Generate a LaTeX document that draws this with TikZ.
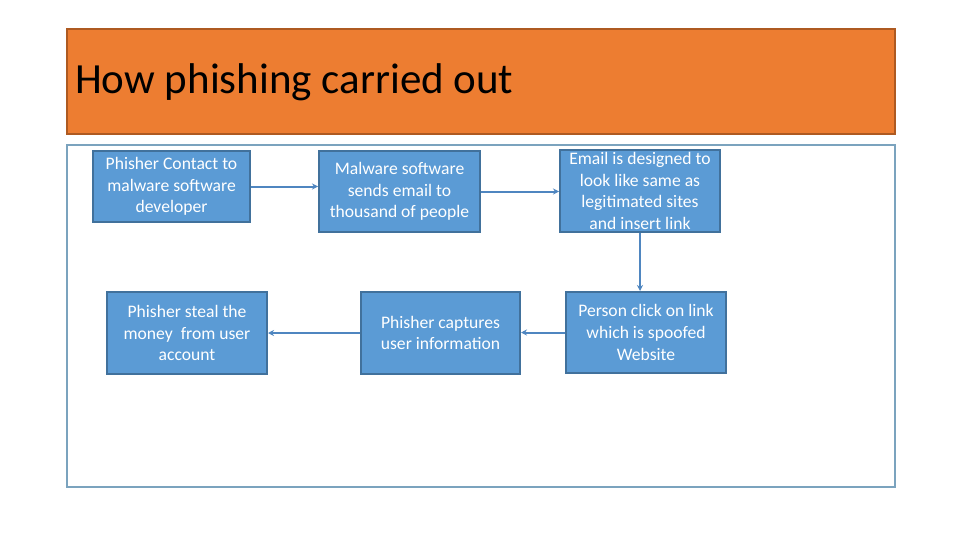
\documentclass[tikz,border=0pt]{standalone}
\usepackage{fontspec}
\setmainfont{Carlito}
\usetikzlibrary{arrows.meta}
\definecolor{hdrfill}{HTML}{ED7D31}
\definecolor{hdrline}{HTML}{AE5A21}
\definecolor{framec}{HTML}{7BA3BE}
\definecolor{boxfill}{HTML}{5B9BD5}
\definecolor{boxline}{HTML}{41719C}
\definecolor{arrc}{HTML}{4F86C0}
\tikzset{
  stepbox/.style={draw=boxline, line width=2pt, fill=boxfill, text=white,
    align=center, inner sep=0pt, font=\fontsize{17.6}{21.7}\selectfont},
  flow/.style={draw=arrc, line width=2pt, -{Stealth[length=6pt,width=6pt]}}
}
\begin{document}
\begin{tikzpicture}[x=1pt,y=-1pt]
\useasboundingbox (0,0) rectangle (960,540);
\fill[white] (0,0) rectangle (960,540);
% header
\node[draw=hdrline, line width=2pt, fill=hdrfill, minimum width=828pt, minimum height=105pt, inner sep=0pt, anchor=north west] (hdr) at (66,28) {};
\node[anchor=base west, inner sep=0pt, font=\fontsize{43}{50}\selectfont] (title) at (75,94) {How phishing carried out};
% frame
\node[draw=framec, line width=2pt, minimum width=828pt, minimum height=342pt, inner sep=0pt, anchor=north west] (frame) at (66,144) {};
% boxes
\node[stepbox, minimum width=157pt, minimum height=71pt] (b1) at (171.5,186.5) {Phisher Contact to\\malware software\\developer};
\node[stepbox, minimum width=161pt, minimum height=81pt] (b2) at (399.5,191.5) {Malware software\\sends email to\\thousand of people};
\node[stepbox, minimum width=160pt, minimum height=82pt] (b3) at (640,191) {Email is designed to\\look like same as\\legitimated sites\\and insert link};
\node[stepbox, minimum width=160pt, minimum height=81pt] (b6) at (646,332.5) {Person click on link\\which is spoofed\\Website};
\node[stepbox, minimum width=159pt, minimum height=82pt] (b5) at (440.5,333) {Phisher captures\\user information};
\node[stepbox, minimum width=160pt, minimum height=82pt] (b4) at (187,333) {Phisher steal the\\money\ \ from user\\account};
% connectors
\draw[flow] (b1.east) -- (b2.west |- b1.east);
\draw[flow] (b2.east) -- (b3.west |- b2.east);
\draw[flow] (b3.south) -- (b3.south |- b6.north);
\draw[flow] (b6.west) -- (b5.east |- b6.west);
\draw[flow] (b5.west) -- (b4.east |- b5.west);
\end{tikzpicture}
\end{document}
